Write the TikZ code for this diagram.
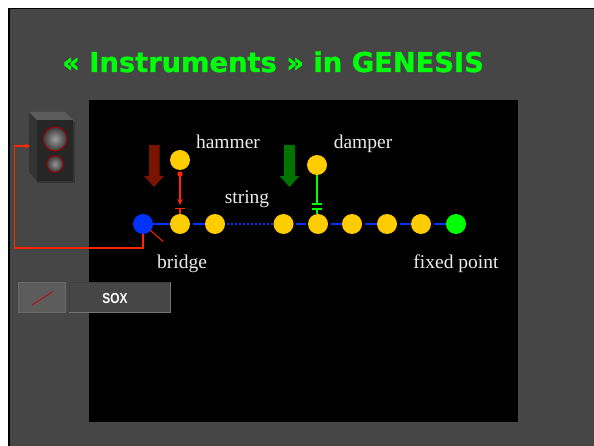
\documentclass[tikz,border=0pt]{standalone}
\usepackage{fontspec}
\setmainfont{Liberation Serif}
\newfontfamily\titlefont[FakeBold=1.1]{DejaVu Sans Bold}
\newfontfamily\soxfont{Liberation Sans}
\usetikzlibrary{arrows.meta,shadings}
\definecolor{slide}{RGB}{70,70,70}
\definecolor{gold}{RGB}{255,204,0}
\definecolor{bluept}{RGB}{0,51,255}
\definecolor{greenpt}{RGB}{0,255,0}
\definecolor{redline}{RGB}{255,38,0}
\definecolor{darkred}{RGB}{122,20,0}
\definecolor{darkgreen}{RGB}{0,115,0}
\definecolor{titlegreen}{RGB}{0,255,10}
\tikzset{
  x=1pt,y=-1pt,
  mass/.style={circle,fill=gold,minimum size=20pt,inner sep=0pt,outer sep=0pt},
  endpt/.style={circle,minimum size=20pt,inner sep=0pt,outer sep=0pt},
  lab/.style={text=white!92!black,font=\fontsize{19.5}{22}\selectfont,inner sep=0pt,anchor=base},
  str/.style={bluept,line width=2.3pt},
  wire/.style={redline,line width=1.5pt},
  dampline/.style={greenpt,line width=2.2pt},
  bevdark/.style={draw=white!24!black,line width=1.2pt},
  bevlight/.style={draw=white!46!black,line width=1.2pt},
}
\begin{document}
\begin{tikzpicture}
\useasboundingbox (0,0) rectangle (594,446);
\fill[white] (0,0) rectangle (594,446);
\fill[black] (8,8) rectangle (594,446);
\fill[slide] (9.5,9.5) rectangle (594,446);
\fill[black] (89,100) rectangle (518,422);
\node[text=titlegreen,font=\titlefont\fontsize{27.3}{30}\selectfont,inner sep=0pt,anchor=base west] at (62,72) {« Instruments » in GENESIS};
% speaker
\fill[black!25!slide] (37,122) rectangle (75,183);
\fill[white!20!black] (29,112) -- (37,120) -- (37,181) -- (29,172) -- cycle;
\fill[white!36!black] (29,112) -- (65,112) -- (73,120) -- (37,120) -- cycle;
\fill[white!15!black] (37,120) rectangle (73,181);
\shade[inner color=white!62!black,outer color=white!22!black,draw=red!60!black,line width=1pt] (55,139) circle (12);
\shade[inner color=white!58!black,outer color=white!22!black,draw=red!60!black,line width=1pt] (55,164) circle (8.3);
\coordinate (spk) at (30,146);
% string
\node[endpt,fill=bluept] (br) at (143,224) {};
\node[mass] (m1) at (180,224) {};
\node[mass] (m2) at (215,224) {};
\node[mass] (m3) at (283.5,224) {};
\node[mass] (m4) at (318,224) {};
\node[mass] (m5) at (352,224) {};
\node[mass] (m6) at (387,224) {};
\node[mass] (m7) at (421,224) {};
\node[endpt,fill=greenpt] (fx) at (456,224) {};
\draw[str] (br) -- (m1);
\draw[str,shorten <=2.5pt] (m1) -- (m2);
\draw[str,dash pattern=on 2pt off 2pt,shorten <=2pt,shorten >=1pt] (m2) -- (m3);
\draw[str,shorten <=2pt,shorten >=2pt] (m3) -- (m4);
\draw[str,shorten <=3pt] (m4) -- (m5);
\draw[str,shorten <=3pt] (m5) -- (m6);
\draw[str,shorten <=3pt] (m6) -- (m7);
\draw[str,shorten <=3pt] (m7) -- (fx);
% hammer
\node[mass] (ham) at (180,160) {};
\coordinate (hb) at (180,174);
\coordinate (ht) at (180,205);
\fill[redline] (hb) circle (2.7);
\draw[wire,-{Stealth[length=6pt,width=5.5pt]}] (hb) -- (ht);
\coordinate (hl) at (175,208.5);
\coordinate (hr) at (185,208.5);
\coordinate (hm) at (180,208.5);
\coordinate (hd) at (180,214);
\draw[wire] (hl) -- (hr);
\draw[wire] (hm) -- (hd);
% damper
\node[mass] (dam) at (317,165) {};
\coordinate (d1) at (317,204);
\coordinate (d2) at (312,204);
\coordinate (d3) at (322,204);
\coordinate (d4) at (312,209.3);
\coordinate (d5) at (322,209.3);
\coordinate (d7) at (317,209.3);
\coordinate (d6) at (317,214);
\draw[dampline] (dam) -- (d1);
\draw[dampline] (d2) -- (d3);
\draw[dampline] (d4) -- (d5);
\draw[dampline] (d7) -- (d6);
% force arrows
\fill[darkred] (149,145) -- (159.5,145) -- (159.5,176) -- (164,176) -- (154,187) -- (144,176) -- (149,176) -- cycle;
\fill[darkgreen] (284,145) -- (295,145) -- (295,176) -- (299.5,176) -- (289.5,187) -- (279.5,176) -- (284,176) -- cycle;
% labels
\node[lab] at (228,149) {hammer};
\node[lab] at (363,149) {damper};
\node[lab] at (247,204) {string};
\node[lab] at (182,269) {bridge};
\node[lab] at (456,269) {fixed point};
% wires
\draw[redline,line width=1pt] (150,230) -- (163.3,241.7);
\draw[redline,line width=1.2pt,-{Stealth[length=5pt,width=5pt]}] (br.south) -- (143,248) -- (14.3,248) -- (14.3,146) -- (spk);
% sox
\node[fill=white!36!black,draw=white!42!black,line width=1.3pt,inner sep=0pt,minimum width=47pt,minimum height=30pt] (b1) at (42,297.5) {};
\draw[white!26!black,line width=.8pt] (b1.south west) -- (b1.north west) -- (b1.north east);
\coordinate (s1) at (32,305);
\coordinate (s2) at (53,291.5);
\draw[red!80!black,line width=.8pt] (s1) -- (s2);
\node[fill=slide,inner sep=0pt,minimum width=101pt,minimum height=30pt] (b2) at (120,297.5) {};
\draw[bevdark] (b2.south west) -- (b2.north west) -- (b2.north east);
\draw[bevlight] (b2.north east) -- (b2.south east) -- (b2.south west);
\node[text=white,font=\soxfont\bfseries\fontsize{14.5}{16}\selectfont,inner sep=0pt] at (115,298.5) {\addfontfeature{FakeStretch=.82}SOX};
\end{tikzpicture}
\end{document}
